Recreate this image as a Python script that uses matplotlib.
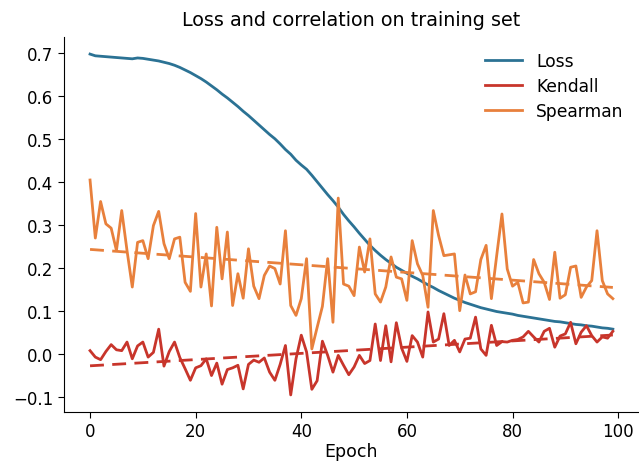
import numpy as np
import matplotlib
matplotlib.use('Agg')
import matplotlib.pyplot as plt

# values, one per epoch
epochs = np.arange(100)

loss = [0.698, 0.694, 0.693, 0.692, 0.691, 0.690, 0.689, 0.688, 0.687, 0.689,
        0.688, 0.686, 0.684, 0.682, 0.679, 0.676, 0.672, 0.667, 0.661, 0.655,
        0.648, 0.641, 0.633, 0.624, 0.615, 0.605, 0.596, 0.586, 0.576, 0.565,
        0.555, 0.544, 0.533, 0.522, 0.511, 0.501, 0.489, 0.476, 0.465, 0.451,
        0.440, 0.430, 0.416, 0.401, 0.386, 0.371, 0.357, 0.342, 0.325, 0.310,
        0.296, 0.281, 0.267, 0.253, 0.241, 0.230, 0.220, 0.211, 0.202, 0.195,
        0.188, 0.181, 0.175, 0.168, 0.161, 0.155, 0.148, 0.142, 0.136, 0.130,
        0.125, 0.120, 0.116, 0.112, 0.108, 0.105, 0.102, 0.099, 0.097, 0.095,
        0.093, 0.090, 0.088, 0.086, 0.084, 0.082, 0.080, 0.078, 0.076, 0.075,
        0.073, 0.071, 0.069, 0.068, 0.066, 0.065, 0.063, 0.061, 0.060, 0.058]

kendall = [0.008, -0.007, -0.013, 0.006, 0.022, 0.010, 0.008, 0.028, -0.011, 0.019,
           0.028, -0.007, 0.004, 0.058, -0.028, 0.006, 0.028, -0.008, -0.034, -0.061,
           -0.032, -0.027, -0.011, -0.050, -0.021, -0.070, -0.036, -0.032, -0.026, -0.081,
           -0.024, -0.014, -0.019, -0.009, -0.042, -0.061, -0.024, 0.020, -0.095, -0.011,
           0.044, 0.005, -0.082, -0.062, 0.030, -0.003, -0.042, -0.003, -0.026, -0.048,
           -0.030, -0.003, -0.022, -0.015, 0.070, -0.015, 0.066, -0.018, 0.073, 0.014,
           -0.017, 0.043, 0.028, -0.007, 0.098, 0.028, 0.035, 0.094, 0.020, 0.032,
           0.005, 0.035, 0.037, 0.086, 0.012, -0.003, 0.067, 0.020, 0.029, 0.028,
           0.032, 0.034, 0.040, 0.053, 0.040, 0.028, 0.053, 0.060, 0.016, 0.042,
           0.047, 0.074, 0.024, 0.051, 0.066, 0.043, 0.028, 0.040, 0.037, 0.053]

spearman = [0.405, 0.270, 0.355, 0.303, 0.293, 0.241, 0.334, 0.241, 0.156, 0.260,
            0.264, 0.222, 0.299, 0.332, 0.257, 0.222, 0.268, 0.272, 0.167, 0.146,
            0.327, 0.156, 0.233, 0.112, 0.295, 0.175, 0.284, 0.113, 0.187, 0.130,
            0.245, 0.158, 0.129, 0.183, 0.205, 0.199, 0.163, 0.287, 0.113, 0.090,
            0.129, 0.222, 0.012, 0.062, 0.111, 0.222, 0.074, 0.363, 0.163, 0.158,
            0.136, 0.249, 0.191, 0.268, 0.140, 0.121, 0.156, 0.226, 0.179, 0.175,
            0.125, 0.264, 0.210, 0.183, 0.109, 0.334, 0.276, 0.229, 0.231, 0.233,
            0.101, 0.184, 0.140, 0.145, 0.220, 0.253, 0.129, 0.229, 0.326, 0.198,
            0.158, 0.167, 0.119, 0.121, 0.220, 0.187, 0.167, 0.127, 0.237, 0.130,
            0.138, 0.202, 0.205, 0.132, 0.156, 0.171, 0.287, 0.171, 0.140, 0.129]

c_loss = '#2b7294'
c_kendall = '#c8352b'
c_spearman = '#e8803c'

fig = plt.figure(figsize=(6.39, 4.64), dpi=100)
ax = fig.add_axes([0.1, 0.11, 0.9, 0.808])

ax.plot(epochs, loss, color=c_loss, lw=2, label='Loss')
ax.plot(epochs, kendall, color=c_kendall, lw=2, label='Kendall')
ax.plot(epochs, spearman, color=c_spearman, lw=2, label='Spearman')

# linear trend lines
for vals, col in [(kendall, c_kendall), (spearman, c_spearman)]:
    k, b = np.polyfit(epochs, vals, 1)
    ax.plot(epochs, k * epochs + b, color=col, lw=2, ls=(0, (5, 3)))

ax.set_title('Loss and correlation on training set', fontsize=13.8, pad=9)
ax.set_xlabel('Epoch', fontsize=12.5, labelpad=1)
ax.tick_params(labelsize=12, length=4, pad=3.5)
ax.set_yticks([-0.1, 0.0, 0.1, 0.2, 0.3, 0.4, 0.5, 0.6, 0.7])
ax.spines['top'].set_visible(False)
ax.spines['right'].set_visible(False)
ax.legend(loc='upper right', frameon=False, fontsize=12.3, handlelength=2.2,
          labelspacing=0.4, bbox_to_anchor=(1.0, 1.0))

fig.savefig('out.png', dpi=100)
